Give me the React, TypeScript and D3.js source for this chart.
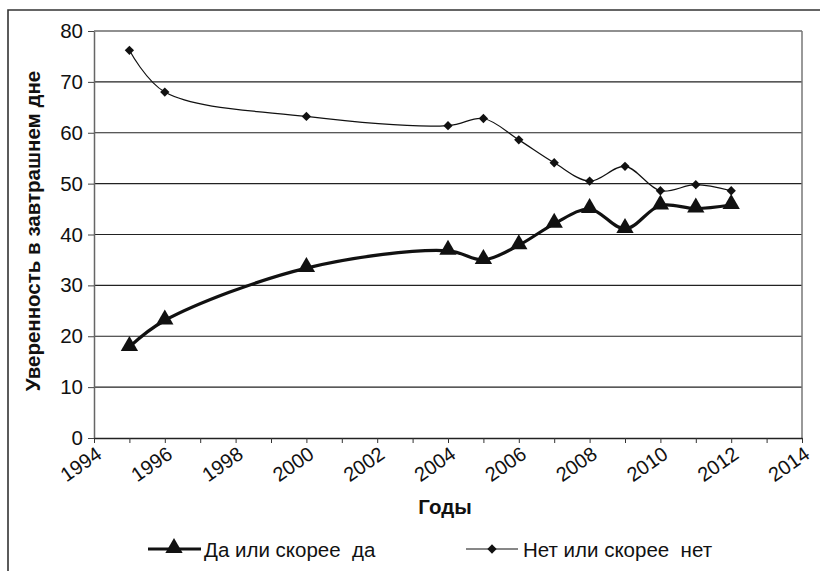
import React, { useEffect, useRef } from "react";
import * as d3 from "d3";

// ---- data ----
const years = [1995, 1996, 2000, 2004, 2005, 2006, 2007, 2008, 2009, 2010, 2011, 2012];
const yesValues = [17.9, 23.1, 33.4, 36.8, 35.0, 37.9, 42.1, 45.0, 41.1, 45.7, 45.1, 45.8];
const noValues = [76.2, 68.0, 63.2, 61.4, 62.8, 58.6, 54.1, 50.5, 53.4, 48.6, 49.8, 48.6];
const yTicks = [0, 10, 20, 30, 40, 50, 60, 70, 80];
const xTicks = [1994, 1996, 1998, 2000, 2002, 2004, 2006, 2008, 2010, 2012, 2014];
const yesLabel = "Да или скорее  да";
const noLabel = "Нет или скорее  нет";
const yTitle = "Уверенность в завтрашнем дне";
const xTitle = "Годы";

const FONT = "'Liberation Sans', Arial, sans-serif";

export default function App() {
  const ref = useRef<SVGSVGElement>(null);

  useEffect(() => {
    const svg = d3.select(ref.current);
    svg.selectAll("*").remove();

    const width = 820;
    const height = 571;
    const margin = { top: 31, right: 18, bottom: 133, left: 94 };
    const boundedWidth = width - margin.left - margin.right;
    const boundedHeight = height - margin.top - margin.bottom;

    // outer frame (cropped on the right and bottom)
    svg
      .append("path")
      .attr("d", `M8,${height + 5}V10H${width + 5}`)
      .attr("fill", "none")
      .attr("stroke", "#333")
      .attr("stroke-width", 1.6);

    const bounds = svg.append("g").attr("transform", `translate(${margin.left},${margin.top})`);

    const xScale = d3.scaleLinear().domain([1994, 2014]).range([0, boundedWidth]);
    const yScale = d3.scaleLinear().domain([0, 80]).range([boundedHeight, 0]);

    // grid
    bounds
      .append("g")
      .selectAll("line")
      .data(yTicks.filter((d) => d > 0))
      .join("line")
      .attr("x1", 0)
      .attr("x2", boundedWidth)
      .attr("y1", (d) => yScale(d))
      .attr("y2", (d) => yScale(d))
      .attr("stroke", "#222")
      .attr("stroke-width", 1.1);

    // right border of plot area
    bounds
      .append("line")
      .attr("x1", boundedWidth)
      .attr("x2", boundedWidth)
      .attr("y1", 0)
      .attr("y2", boundedHeight)
      .attr("stroke", "#777")
      .attr("stroke-width", 1.5);

    // y axis
    const yAxis = bounds
      .append("g")
      .call(d3.axisLeft(yScale).tickValues(yTicks).tickSize(6).tickPadding(5).tickSizeOuter(0));
    yAxis.select(".domain").attr("stroke", "#666").attr("stroke-width", 1.5);
    yAxis.selectAll(".tick line").attr("stroke", "#444");
    yAxis
      .selectAll("text")
      .style("font-family", FONT)
      .style("font-size", "20.5px")
      .attr("fill", "#111");

    // x axis
    const minor = d3.range(1994, 2015, 1);
    const xAxis = bounds
      .append("g")
      .attr("transform", `translate(0,${boundedHeight})`)
      .call(d3.axisBottom(xScale).tickValues(minor).tickSize(5).tickFormat(() => "").tickSizeOuter(0));
    xAxis.select(".domain").attr("stroke", "#222").attr("stroke-width", 1.3);
    xAxis.selectAll(".tick line").attr("stroke", "#333");

    bounds
      .append("g")
      .selectAll("text")
      .data(xTicks)
      .join("text")
      .attr("transform", (d) => `translate(${xScale(d) + 9},${boundedHeight + 19}) rotate(-35)`)
      .attr("text-anchor", "end")
      .style("font-family", FONT)
      .style("font-size", "20px")
      .attr("fill", "#111")
      .text((d) => d);

    // axis titles
    svg
      .append("text")
      .attr("transform", `translate(40,${margin.top + 200}) rotate(-90)`)
      .attr("text-anchor", "middle")
      .style("font-family", FONT)
      .style("font-size", "20.5px")
      .style("font-weight", "bold")
      .attr("fill", "#111")
      .text(yTitle);

    svg
      .append("text")
      .attr("x", 445)
      .attr("y", 514)
      .attr("text-anchor", "middle")
      .style("font-family", FONT)
      .style("font-size", "20.5px")
      .style("font-weight", "bold")
      .attr("fill", "#111")
      .text(xTitle);

    // lines
    const line = d3
      .line<[number, number]>()
      .x((d) => xScale(d[0]))
      .y((d) => yScale(d[1]))
      .curve(d3.curveCatmullRom.alpha(0.5));

    const yesData = years.map((y, i) => [y, yesValues[i]] as [number, number]);
    const noData = years.map((y, i) => [y, noValues[i]] as [number, number]);

    bounds
      .append("path")
      .attr("d", line(noData))
      .attr("fill", "none")
      .attr("stroke", "#111")
      .attr("stroke-width", 1.2);

    bounds
      .append("path")
      .attr("d", line(yesData))
      .attr("fill", "none")
      .attr("stroke", "#111")
      .attr("stroke-width", 3.2);

    const diamond = d3.symbol().type(d3.symbolDiamond2).size(55);
    const triangle = d3.symbol().type(d3.symbolTriangle).size(130);

    bounds
      .append("g")
      .selectAll("path")
      .data(noData)
      .join("path")
      .attr("transform", (d) => `translate(${xScale(d[0])},${yScale(d[1])})`)
      .attr("d", diamond())
      .attr("fill", "#111");

    bounds
      .append("g")
      .selectAll("path")
      .data(yesData)
      .join("path")
      .attr("transform", (d) => `translate(${xScale(d[0])},${yScale(d[1]) - 1})`)
      .attr("d", triangle())
      .attr("fill", "#111");

    // legend
    const legend = svg.append("g").attr("transform", "translate(0,549)");
    legend
      .append("line")
      .attr("x1", 148)
      .attr("x2", 201)
      .attr("stroke", "#111")
      .attr("stroke-width", 3.2);
    legend.append("path").attr("transform", "translate(174,-1)").attr("d", triangle()).attr("fill", "#111");
    legend
      .append("text")
      .attr("x", 204)
      .attr("y", 8)
      .style("font-family", FONT)
      .style("font-size", "20.5px")
      .attr("fill", "#111")
      .style("white-space", "pre")
      .text(yesLabel);

    legend
      .append("line")
      .attr("x1", 466)
      .attr("x2", 518)
      .attr("stroke", "#111")
      .attr("stroke-width", 1.2);
    legend.append("path").attr("transform", "translate(492,0)").attr("d", diamond()).attr("fill", "#111");
    legend
      .append("text")
      .attr("x", 523)
      .attr("y", 8)
      .style("font-family", FONT)
      .style("font-size", "20.5px")
      .attr("fill", "#111")
      .style("white-space", "pre")
      .text(noLabel);
  }, []);

  return (
    <svg
      ref={ref}
      width={820}
      height={571}
      style={{ position: "absolute", left: 0, top: 0, background: "#fff" }}
    />
  );
}
